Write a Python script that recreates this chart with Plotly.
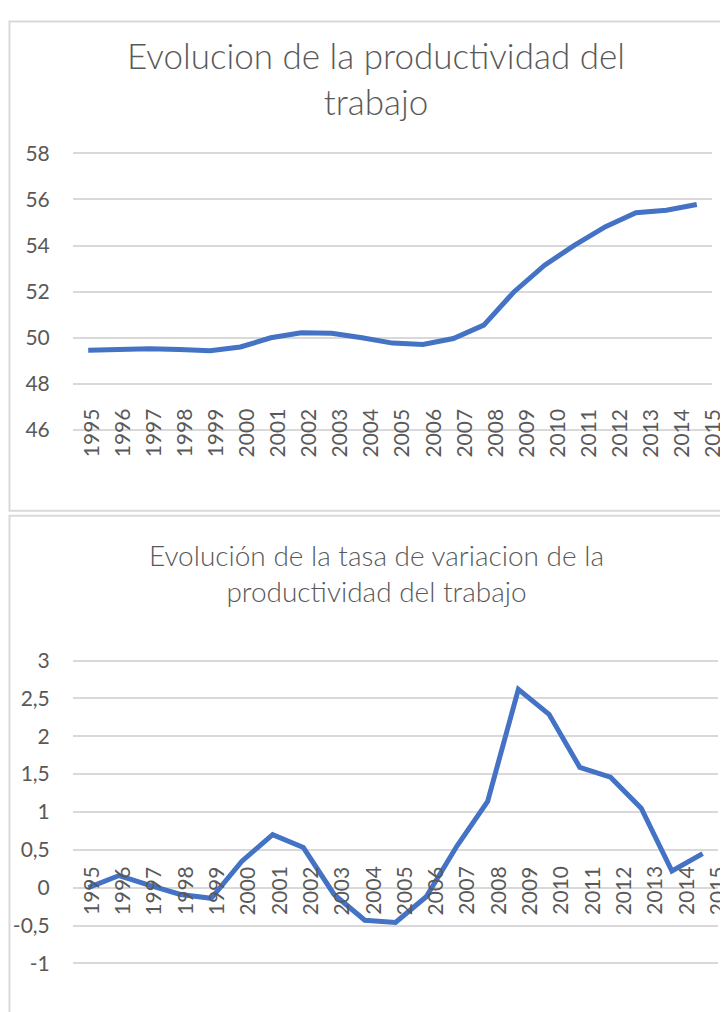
import plotly.graph_objects as go

# ---------------- data ----------------
YEARS = ["1995", "1996", "1997", "1998", "1999", "2000", "2001", "2002", "2003",
         "2004", "2005", "2006", "2007", "2008", "2009", "2010", "2011", "2012",
         "2013", "2014", "2015"]

PRODUCTIVIDAD = [49.46, 49.50, 49.52, 49.49, 49.44, 49.60, 50.00, 50.22, 50.20,
                 50.00, 49.77, 49.71, 49.97, 50.55, 52.00, 53.15, 54.03, 54.82,
                 55.42, 55.53, 55.78]

TASA_VARIACION = [0.00, 0.16, 0.03, -0.09, -0.14, 0.35, 0.70, 0.53, -0.09,
                  -0.43, -0.46, -0.12, 0.55, 1.14, 2.62, 2.29, 1.59, 1.46,
                  1.05, 0.22, 0.45]

Y1_TICKS = [46, 48, 50, 52, 54, 56, 58]
Y1_TICKTEXT = ["46", "48", "50", "52", "54", "56", "58"]
Y2_TICKS = [-1, -0.5, 0, 0.5, 1, 1.5, 2, 2.5, 3]
Y2_TICKTEXT = ["-1", "-0,5", "0", "0,5", "1", "1,5", "2", "2,5", "3"]

TITLE1 = "Evolucion de la productividad del<br>trabajo"
TITLE2 = "Evolución de la tasa de variacion de la<br>productividad del trabajo"

# ---------------- layout helpers ----------------
# observed placement of the figure in the photographed page
OFF_X = 8          # body margin, horizontal
Y0, YS = 21.0, 0.976  # vertical offset and scale of the photographed page
W, H = 720, 1020
FONT = "Lato"
GRAY = "#595959"
GRID = "#d9d9d9"
BLUE = "#4472C4"


def px_x(p):
    """target picture x (px) -> paper x"""
    return (p - OFF_X) / W


def px_y(p):
    """target picture y (px) -> paper y"""
    return 1 - ((p - Y0) / YS) / H


Y1_RANGE = [45.95, 58.05]
y1_ppu = (430 - 154) / (58 - 46)
y1_dom = [px_y(430 + (46 - Y1_RANGE[0]) * y1_ppu), px_y(154 - (Y1_RANGE[1] - 58) * y1_ppu)]

Y2_RANGE = [-1.03, 3.03]
y2_ppu = (962 - 660) / 4
y2_dom = [px_y(962 + (-1 - Y2_RANGE[0]) * y2_ppu), px_y(660 - (Y2_RANGE[1] - 3) * y2_ppu)]

x1_dom = [px_x(73), px_x(712)]
x2_dom = [px_x(73), px_x(718)]

fig = go.Figure()
fig.add_trace(go.Scatter(x=YEARS, y=PRODUCTIVIDAD, mode="lines",
                         line=dict(color=BLUE, width=5), xaxis="x", yaxis="y",
                         showlegend=False, hoverinfo="x+y"))
fig.add_trace(go.Scatter(x=YEARS, y=TASA_VARIACION, mode="lines",
                         line=dict(color=BLUE, width=5), xaxis="x2", yaxis="y2",
                         showlegend=False, hoverinfo="x+y"))

xcommon = dict(type="category", range=[-0.5, len(YEARS) - 0.5], showticklabels=False,
               showgrid=False, zeroline=False, showline=False, fixedrange=True)
ycommon = dict(showgrid=True, gridcolor=GRID, gridwidth=1.5, zeroline=False,
               showline=False, ticks="outside", ticklen=18, tickcolor="rgba(0,0,0,0)",
               tickmode="array", tickfont=dict(family=FONT, size=21, color=GRAY),
               fixedrange=True)

annotations = []
for i, yr in enumerate(YEARS):
    drift = 2 + 0.6 * i  # category labels sit slightly right of the points
    annotations.append(dict(x=i, y=Y1_TICKS[0], xref="x", yref="y", text=yr,
                            textangle=-90, showarrow=False, xanchor="center",
                            yanchor="middle", yshift=-3, xshift=drift,
                            font=dict(family=FONT, size=21, color=GRAY)))
    annotations.append(dict(x=i, y=0, xref="x2", yref="y2", text=yr,
                            textangle=-90, showarrow=False, xanchor="center",
                            yanchor="middle", yshift=-3, xshift=drift,
                            font=dict(family=FONT, size=21, color=GRAY)))

annotations.append(dict(x=px_x(376), y=px_y(79), xref="paper", yref="paper",
                        text=TITLE1, showarrow=False, xanchor="center", yanchor="middle",
                        font=dict(family=FONT, size=35, color=GRAY, weight=300)))
annotations.append(dict(x=px_x(376), y=px_y(573), xref="paper", yref="paper",
                        text=TITLE2, showarrow=False, xanchor="center", yanchor="middle",
                        font=dict(family=FONT, size=28, color=GRAY, weight=300)))

shapes = [
    dict(type="rect", xref="paper", yref="paper", x0=px_x(9.5), x1=1.1,
         y0=px_y(510.5), y1=1 - 1.5 / H, line=dict(color="#d9d9d9", width=2),
         fillcolor="rgba(0,0,0,0)", layer="below"),
    dict(type="rect", xref="paper", yref="paper", x0=px_x(9.5), x1=1.1,
         y0=-0.1, y1=px_y(515.5), line=dict(color="#d9d9d9", width=2),
         fillcolor="rgba(0,0,0,0)", layer="below"),
]

fig.update_layout(
    width=W, height=H, margin=dict(l=0, r=0, t=0, b=0),
    paper_bgcolor="white", plot_bgcolor="white", showlegend=False,
    xaxis=dict(domain=x1_dom, anchor="y", **xcommon),
    yaxis=dict(domain=y1_dom, anchor="x", range=Y1_RANGE, tickvals=Y1_TICKS,
               ticktext=Y1_TICKTEXT, **ycommon),
    xaxis2=dict(domain=x2_dom, anchor="y2", **xcommon),
    yaxis2=dict(domain=y2_dom, anchor="x2", range=Y2_RANGE, tickvals=Y2_TICKS,
                ticktext=Y2_TICKTEXT, **ycommon),
    annotations=annotations, shapes=shapes,
)

fig.write_html("out.html")
